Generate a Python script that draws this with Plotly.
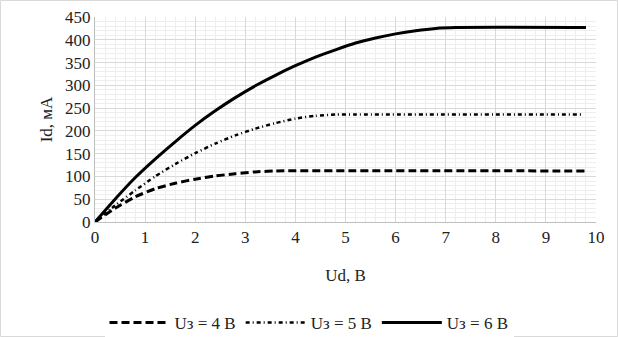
import plotly.graph_objects as go

ud_6 = [0, 0.4, 0.8, 1.2, 1.6, 2.0, 2.4, 2.8, 3.2, 3.6, 4.0, 4.4, 4.8, 5.2, 5.6, 6.0, 6.4, 6.8, 7.2, 9.8]
id_6 = [0, 50, 97, 138, 176, 212, 244, 273, 299, 322, 343, 362, 378, 393, 404, 413, 420, 425, 427, 427]

ud_5 = [0, 0.4, 0.8, 1.2, 1.6, 2.0, 2.4, 2.8, 3.2, 3.6, 4.0, 4.4, 4.8, 5.2, 9.75]
id_5 = [0, 36, 69, 100, 127, 151, 172, 190, 205, 217, 227, 233, 236, 236, 236]

ud_4 = [0, 0.4, 0.8, 1.2, 1.6, 2.0, 2.4, 2.8, 3.2, 3.6, 9.8]
id_4 = [0, 30, 55, 73, 85, 94, 101, 106, 110, 112, 112]

names = ["Uз = 4 В", "Uз = 5 В", "Uз = 6 В"]
x_ticks = list(range(0, 11))
y_ticks = list(range(0, 451, 50))

fig = go.Figure()
fig.add_trace(go.Scatter(x=ud_4, y=id_4, mode="lines", name=names[0],
                         line=dict(color="black", width=3, dash="8px,4px", shape="spline", smoothing=0.6)))
fig.add_trace(go.Scatter(x=ud_5, y=id_5, mode="lines", name=names[1],
                         line=dict(color="black", width=2.5, dash="4px,3px,1px,3px", shape="spline", smoothing=0.6)))
fig.add_trace(go.Scatter(x=ud_6, y=id_6, mode="lines", name=names[2],
                         line=dict(color="black", width=3, shape="spline", smoothing=0.6)))

font = dict(family="Liberation Serif, serif", size=17, color="#222")
L, R, T, B = 95, 22, 17, 115
W, H = 618, 337
pw, ph = W - L - R, H - T - B

fig.update_layout(
    width=W, height=H,
    margin=dict(l=L, r=R, t=T, b=B, autoexpand=False),
    paper_bgcolor="white", plot_bgcolor="white",
    font=font,
    showlegend=True,
    legend=dict(orientation="h", x=0.5, xanchor="center", xref="container",
                y=1 - 323 / H, yanchor="middle", yref="container",
                font=font, itemwidth=60, tracegroupgap=0),
    xaxis=dict(range=[0, 10], tickvals=x_ticks, showgrid=True, gridcolor="#d9d9d9", gridwidth=1,
               minor=dict(dtick=0.2, showgrid=True, gridcolor="#eeeeee", gridwidth=1),
               showline=True, linecolor="#bfbfbf", zeroline=False, ticks="",
               title=dict(text="Ud, В", font=font, standoff=22), tickfont=font, automargin=False),
    yaxis=dict(range=[0, 450], tickvals=y_ticks, showgrid=True, gridcolor="#d9d9d9", gridwidth=1,
               minor=dict(dtick=10, showgrid=True, gridcolor="#eeeeee", gridwidth=1),
               showline=True, linecolor="#bfbfbf", zeroline=False, ticks="",
               title=dict(text="Id, мА", font=font, standoff=8), tickfont=font, automargin=False),
)
fig.add_shape(type="rect", xref="paper", yref="paper",
              x0=-(L - 0.5) / pw, x1=(W - 0.5 - L) / pw,
              y0=(T + ph - (H - 0.5)) / ph, y1=(T + ph - 0.5) / ph,
              line=dict(color="#d9d9d9", width=1), layer="below")

fig.write_html("out.html")
